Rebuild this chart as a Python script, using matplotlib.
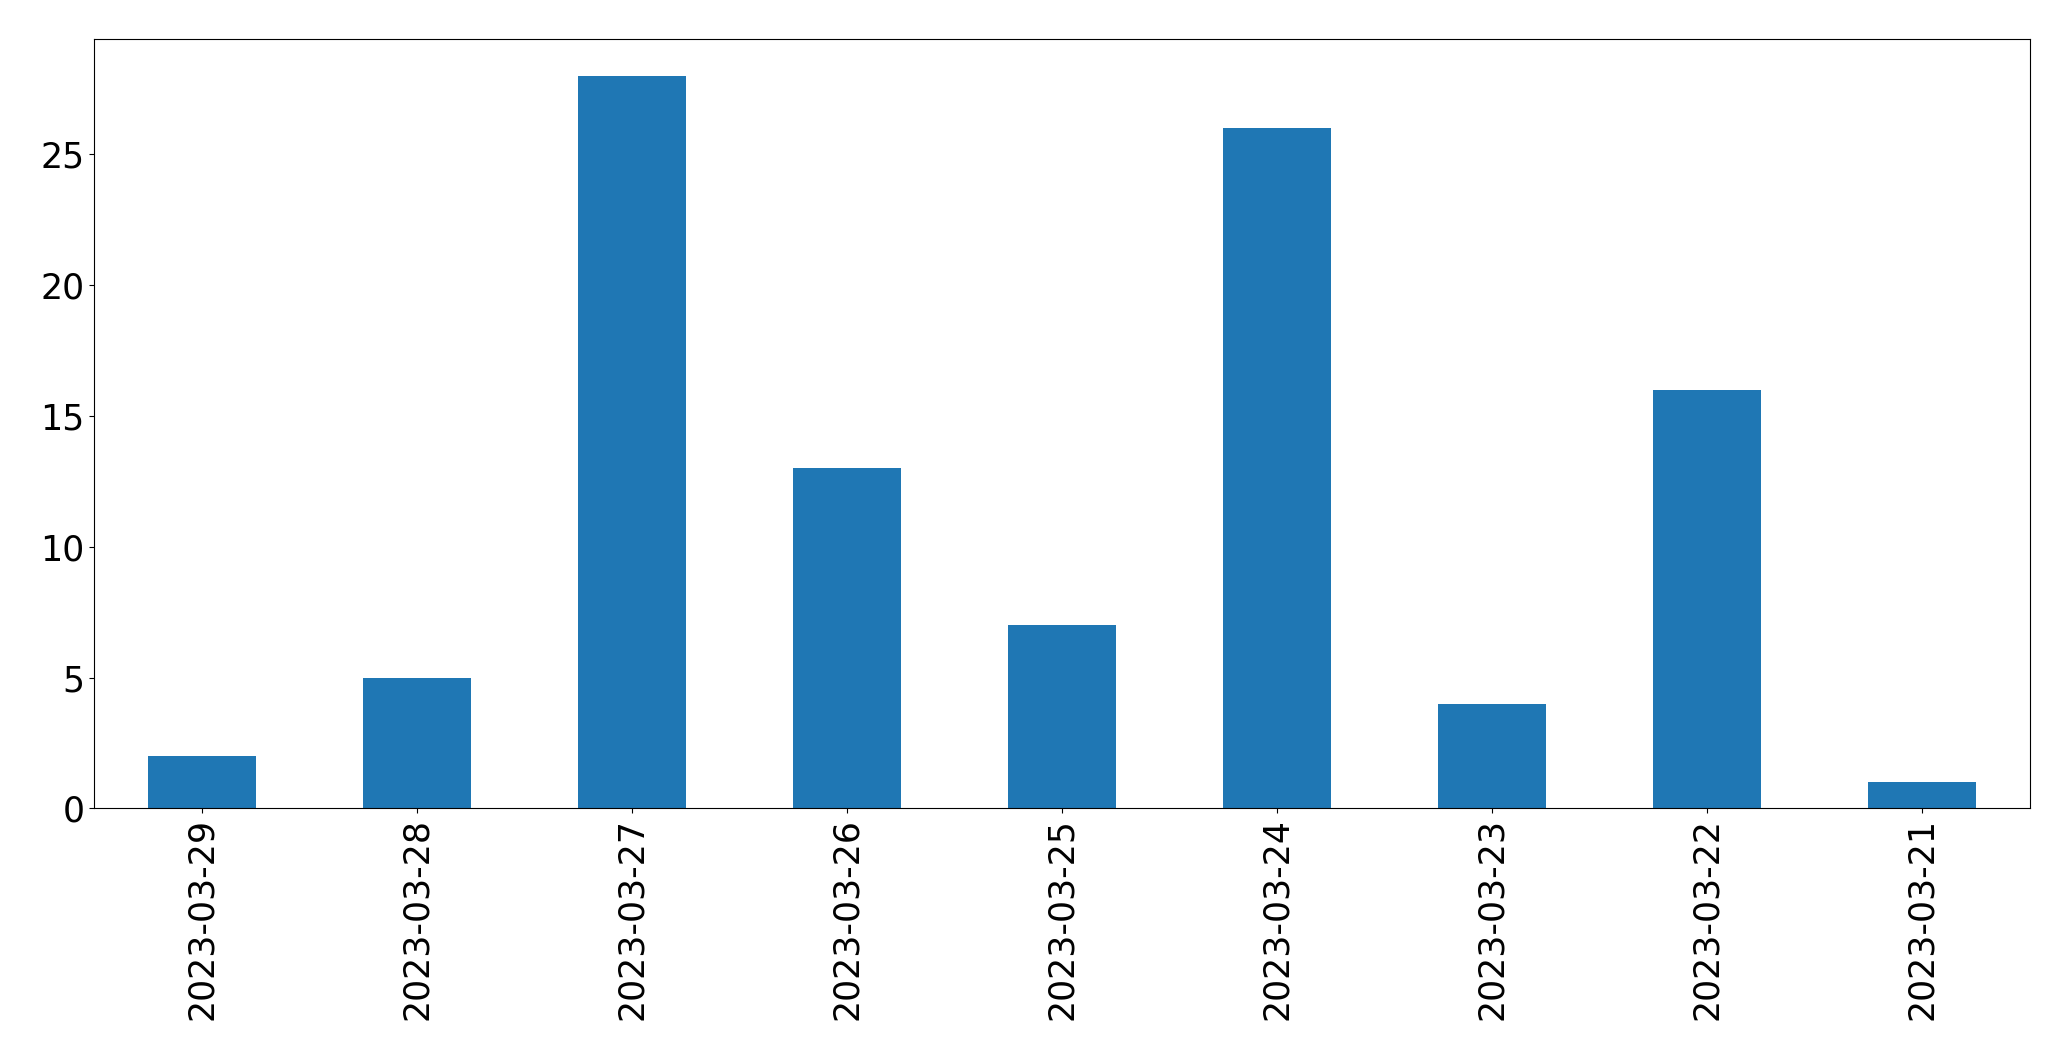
import matplotlib
matplotlib.use("Agg")
import matplotlib.pyplot as plt
import pandas as pd

dates = ["2023-03-29", "2023-03-28", "2023-03-27", "2023-03-26", "2023-03-25",
         "2023-03-24", "2023-03-23", "2023-03-22", "2023-03-21"]
counts = [2, 5, 28, 13, 7, 26, 4, 16, 1]

fig = plt.figure(figsize=(20.71, 10.61), dpi=100)
ax = fig.add_axes([0.0455, 0.238, 0.9345, 0.725])
s = pd.Series(counts, index=dates)
s.plot(kind="bar", ax=ax, color="#1f77b4", width=0.5)
ax.tick_params(axis="both", labelsize=25)
ax.set_ylim(0, 29.4)
fig.savefig("out.png", dpi=100)
